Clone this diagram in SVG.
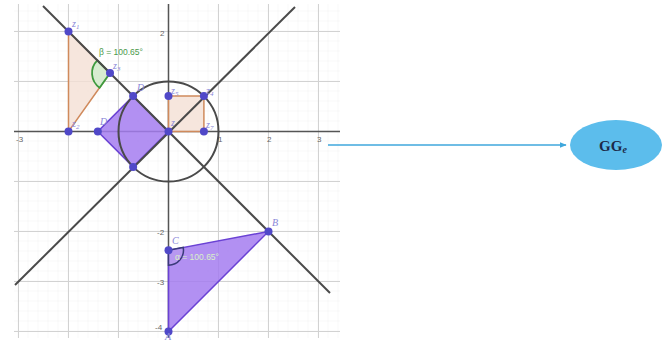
<svg xmlns="http://www.w3.org/2000/svg" width="668" height="342" viewBox="0 0 668 342">
  <defs>
    <pattern id="minor" x="8.5" y="1.5" width="10" height="10" patternUnits="userSpaceOnUse">
      <path d="M10,0 V10 M0,10 H10" fill="none" stroke="#eeeeee" stroke-width="0.8"/>
    </pattern>
    <marker id="arr" viewBox="0 0 10 10" refX="9" refY="5" markerWidth="7" markerHeight="7" orient="auto" markerUnits="userSpaceOnUse">
      <path d="M0,1 L10,5 L0,9 Z" fill="#3fa7dc"/>
    </marker>
    <style>
      .maj { stroke: #d2d2d2; stroke-width: 1; }
      .axis { stroke: #555; stroke-width: 1.5; }
      .line { stroke: #4a4a4a; stroke-width: 2; fill: none; }
      .pt { fill: #5048c8; }
      .tick { font-family: "Liberation Sans", Arial, sans-serif; font-size: 8px; fill: #666; }
      .lbl { font-family: "Liberation Serif", serif; font-style: italic; font-size: 10px; fill: #8a86d8; }
      .purple { fill: #a47cf0; fill-opacity: 0.85; stroke: #6a42d4; stroke-width: 1.5; }
      .orange { fill: #f4e0d4; fill-opacity: 0.8; stroke: #d08a5c; stroke-width: 1.5; }
    </style>
  </defs>

  <g id="graph">
    <rect x="14" y="4" width="326" height="334" fill="#ffffff"/>
    <rect x="14" y="4" width="326" height="334" fill="url(#minor)"/>
    <g class="maj">
      <line x1="18.5" y1="4" x2="18.5" y2="338"/>
      <line x1="68.5" y1="4" x2="68.5" y2="338"/>
      <line x1="118.5" y1="4" x2="118.5" y2="338"/>
      <line x1="218.5" y1="4" x2="218.5" y2="338"/>
      <line x1="268.5" y1="4" x2="268.5" y2="338"/>
      <line x1="318.5" y1="4" x2="318.5" y2="338"/>
      <line x1="14" y1="31.5" x2="340" y2="31.5"/>
      <line x1="14" y1="81.5" x2="340" y2="81.5"/>
      <line x1="14" y1="181.5" x2="340" y2="181.5"/>
      <line x1="14" y1="231.5" x2="340" y2="231.5"/>
      <line x1="14" y1="281.5" x2="340" y2="281.5"/>
      <line x1="14" y1="331.5" x2="340" y2="331.5"/>
    </g>
    <line class="axis" x1="14" y1="131.5" x2="340" y2="131.5"/>
    <line class="axis" x1="168.5" y1="4" x2="168.5" y2="338"/>

    <text class="tick" x="16" y="142">-3</text>
    <text class="tick" x="218" y="142">1</text>
    <text class="tick" x="267" y="142">2</text>
    <text class="tick" x="317" y="142">3</text>
    <text class="tick" x="160" y="36">2</text>
    <text class="tick" x="157" y="235">-2</text>
    <text class="tick" x="157" y="285">-3</text>
    <text class="tick" x="155" y="330">-4</text>

    <!-- orange triangle z1 z2 z3 -->
    <polygon class="orange" points="68.5,31.5 68.5,131.5 110,73"/>
    <path d="M110,73 L97.3,60.3 A18,18 0 0 0 99.6,87.7 Z" fill="#d7ecd0" stroke="#3e9a3e" stroke-width="1.8"/>
    <text x="99" y="55" font-family="Liberation Sans, Arial, sans-serif" font-size="8.5" fill="#4a9a4a">β = 100.65°</text>

    <!-- orange square -->
    <polygon class="orange" points="168.5,131.5 203.9,131.5 203.9,96.1 168.5,96.1"/>

    <!-- purple square -->
    <polygon class="purple" points="168.5,131.5 133.1,96.1 97.8,131.5 133.1,166.9"/>

    <!-- circle -->
    <circle cx="168.5" cy="131.5" r="50" class="line" stroke-width="1.6"/>

    <!-- lines y=-x and y=x -->
    <line class="line" x1="43" y1="6" x2="330" y2="293"/>
    <line class="line" x1="15" y1="285" x2="295" y2="7"/>

    <!-- triangle ABC -->
    <polygon class="purple" points="168.5,331.5 268.5,231.5 168.5,250.3"/>
    <path d="M168.5,250.3 L183.2,247.5 A15,15 0 0 1 168.5,265.3 Z" fill="#b898f0" stroke="#3a3a7a" stroke-width="1.5"/>
    <text x="175" y="260" font-family="Liberation Sans, Arial, sans-serif" font-size="8.5" fill="#d8f0c8">α = 100.65°</text>

    <!-- points -->
    <g class="pt">
      <circle cx="68.5" cy="31.5" r="4"/>
      <circle cx="68.5" cy="131.5" r="4"/>
      <circle cx="110" cy="73" r="4"/>
      <circle cx="133.1" cy="96.1" r="4"/>
      <circle cx="97.8" cy="131.5" r="4"/>
      <circle cx="133.1" cy="166.9" r="4"/>
      <circle cx="168.5" cy="131.5" r="4"/>
      <circle cx="168.5" cy="96.1" r="4"/>
      <circle cx="203.9" cy="96.1" r="4"/>
      <circle cx="203.9" cy="131.5" r="4"/>
      <circle cx="168.5" cy="331.5" r="4"/>
      <circle cx="268.5" cy="231.5" r="4"/>
      <circle cx="168.5" cy="250.3" r="4"/>
    </g>

    <text class="lbl" x="72" y="27">z<tspan font-size="7" dy="2">1</tspan></text>
    <text class="lbl" x="72" y="127">z<tspan font-size="7" dy="2">2</tspan></text>
    <text class="lbl" x="113" y="69">z<tspan font-size="7" dy="2">3</tspan></text>
    <text class="lbl" x="137" y="91">D</text>
    <text class="lbl" x="100" y="125">D</text>
    <text class="lbl" x="171" y="126">z</text>
    <text class="lbl" x="171" y="94">z<tspan font-size="7" dy="2">5</tspan></text>
    <text class="lbl" x="206" y="94">z<tspan font-size="7" dy="2">4</tspan></text>
    <text class="lbl" x="206" y="128">z<tspan font-size="7" dy="2">7</tspan></text>
    <text class="lbl" x="172" y="244">C</text>
    <text class="lbl" x="272" y="226">B</text>
    <text class="lbl" x="165" y="340" font-size="8">A</text>
  </g>

  <g id="connectors">
    <line x1="328" y1="145" x2="566" y2="145" stroke="#3fa7dc" stroke-width="1.3" marker-end="url(#arr)"/>
  </g>

  <g id="gge">
    <ellipse cx="616" cy="145" rx="46" ry="25" fill="#5cbdec"/>
    <text x="613" y="151" text-anchor="middle" font-family="Liberation Serif, serif" font-weight="bold" font-size="15" fill="#1c2a48">GG<tspan font-style="italic" font-size="10" dy="2">e</tspan></text>
  </g>
</svg>
